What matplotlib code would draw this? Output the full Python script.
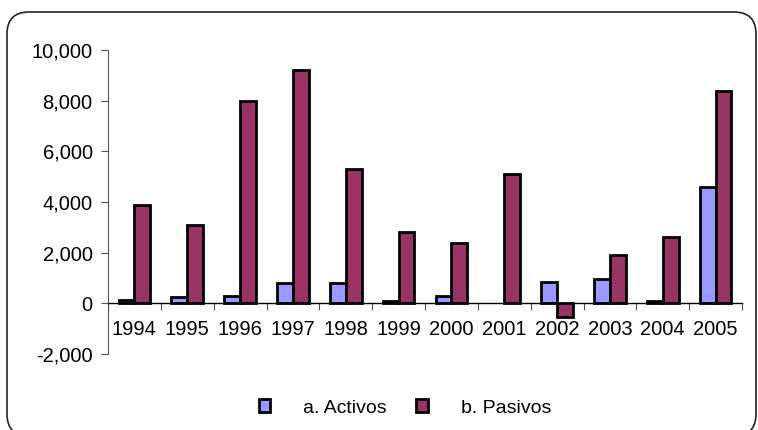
import numpy as np
import matplotlib
matplotlib.use("Agg")
import matplotlib.pyplot as plt
from matplotlib.patches import FancyBboxPatch, Patch
from matplotlib.ticker import FuncFormatter

plt.rcParams['font.family'] = ['Liberation Sans', 'DejaVu Sans']

years = ['1994', '1995', '1996', '1997', '1998', '1999',
         '2000', '2001', '2002', '2003', '2004', '2005']
activos = [150, 250, 300, 800, 800, 100, 300, 0, 830, 950, 100, 4600]
pasivos = [3900, 3100, 8000, 9200, 5300, 2800, 2400, 5100, -520, 1900, 2600, 8400]

W, H = 758, 430
fig = plt.figure(figsize=(W / 100, H / 100), dpi=100)

# rounded chart border, in inches (bottom edge runs off the image)
frame = FancyBboxPatch((0.07, -0.06), 7.49, 4.24,
                       boxstyle="round,pad=0,rounding_size=0.22",
                       transform=fig.dpi_scale_trans, fill=False,
                       edgecolor='#222222', linewidth=1.2, clip_on=False)
fig.patches.append(frame)

ax = fig.add_axes([108 / W, (H - 354) / H, (742 - 108) / W, (354 - 50) / H])

x = np.arange(len(years))
bw = 0.3
# empty bars get no outline (Excel draws nothing for a zero value)
lw_a = [0 if v == 0 else 2.0 for v in activos]
lw_p = [0 if v == 0 else 2.0 for v in pasivos]
ax.bar(x - bw / 2, activos, bw, color='#9999FF', edgecolor='black', linewidth=lw_a, label='a. Activos')
ax.bar(x + bw / 2, pasivos, bw, color='#993366', edgecolor='black', linewidth=lw_p, label='b. Pasivos')

ax.set_ylim(-2000, 10000)
ax.set_xlim(-0.5, len(years) - 0.5)
ax.set_yticks(np.arange(-2000, 10001, 2000))
ax.yaxis.set_major_formatter(FuncFormatter(lambda v, p: f"{int(v):,}"))

for s in ['top', 'right']:
    ax.spines[s].set_visible(False)
ax.spines['bottom'].set_position(('data', 0))
ax.spines['bottom'].set_linewidth(1.0)
ax.spines['left'].set_color('#555555')

ax.set_xticks(np.arange(-0.5, len(years), 1.0))
ax.set_xticklabels([])
ax.set_xticks(x, minor=True)
ax.set_xticklabels(years, minor=True)
ax.tick_params(axis='x', which='major', length=5, direction='out', color='#555555')
ax.tick_params(axis='x', which='minor', length=0, pad=12, labelsize=14.5)
ax.tick_params(axis='y', length=5, direction='out', color='#555555', labelsize=14.5, pad=6)

handles = [Patch(facecolor='#9999FF', edgecolor='black', linewidth=2.0, label='a. Activos'),
           Patch(facecolor='#993366', edgecolor='black', linewidth=2.0, label='b. Pasivos')]
fig.legend(handles=handles, loc='center', bbox_to_anchor=(405 / W, (H - 408) / H),
           ncol=2, frameon=False, fontsize=14, handlelength=0.6, handleheight=0.6,
           handletextpad=1.7, columnspacing=1.5)

fig.savefig('out.png', dpi=100)
